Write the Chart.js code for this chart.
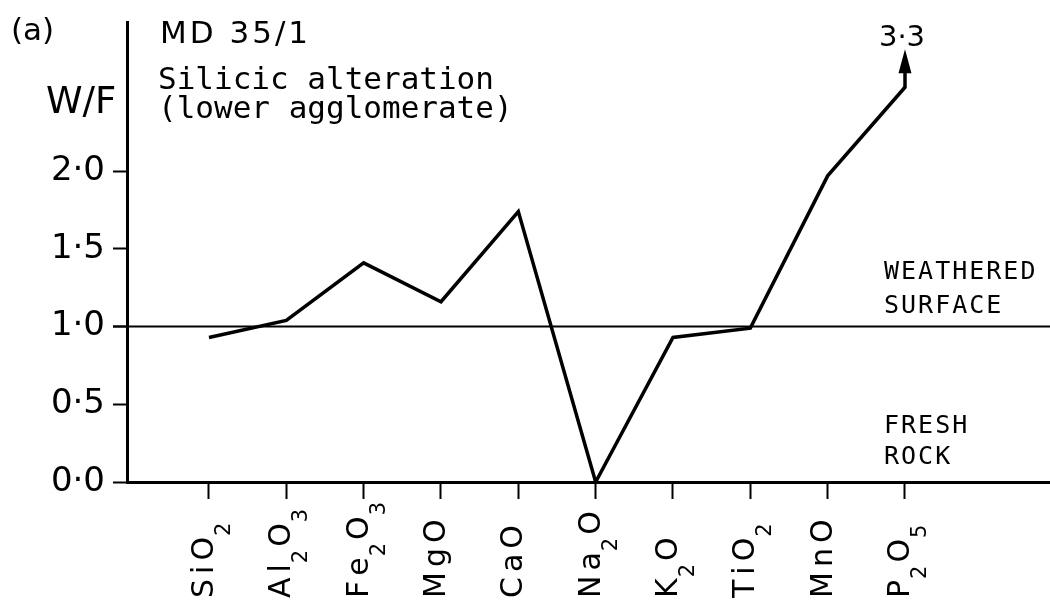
<!DOCTYPE html>
<html>
<head>
<meta charset="utf-8">
<script src="https://cdn.jsdelivr.net/npm/chart.js@4.4.1/dist/chart.umd.min.js"></script>
<style>
html,body{margin:0;padding:0;background:#fff;}
#wrap{width:1050px;height:606px;}
</style>
</head>
<body>
<div id="wrap"><canvas id="c" width="1050" height="606"></canvas></div>
<script>
const categories = ["SiO₂","Al₂O₃","Fe₂O₃","MgO","CaO","Na₂O","K₂O","TiO₂","MnO","P₂O₅"];
const wfValues = [0.93, 1.04, 1.41, 1.16, 1.74, 0.0, 0.93, 0.99, 1.97, 2.54];
const yTicks = [0, 0.5, 1.0, 1.5, 2.0];
const boundaryValue = 1.0;
const offScaleLabel = "3·3";

const MONO = "'DejaVu Sans Mono', monospace";
const SANS = "'DejaVu Sans', sans-serif";
const SUBS = {"₀":"0","₁":"1","₂":"2","₃":"3","₄":"4","₅":"5","₆":"6","₇":"7","₈":"8","₉":"9"};

const annotations = {
  id: 'annotations',
  afterDraw(chart) {
    const ctx = chart.ctx;
    const ca = chart.chartArea;
    const ys = chart.scales.y, xs = chart.scales.x;
    ctx.save();
    ctx.fillStyle = '#000';
    ctx.strokeStyle = '#000';
    // boundary line at W/F = 1
    const yb = ys.getPixelForValue(boundaryValue);
    ctx.lineWidth = 2;
    ctx.beginPath();
    ctx.moveTo(ca.left - 14, yb);
    ctx.lineTo(ca.right, yb);
    ctx.stroke();
    // arrow from last point
    const meta = chart.getDatasetMeta(0);
    const last = meta.data[meta.data.length - 1];
    const px = last.x, py = last.y;
    ctx.lineWidth = 3.5;
    ctx.beginPath();
    ctx.moveTo(px, py + 1);
    ctx.lineTo(px, py - 18);
    ctx.stroke();
    ctx.beginPath();
    ctx.moveTo(px - 6.5, py - 14);
    ctx.lineTo(px + 6.5, py - 14);
    ctx.lineTo(px, py - 38);
    ctx.closePath();
    ctx.fill();
    ctx.textBaseline = 'alphabetic';
    ctx.textAlign = 'center';
    ctx.font = '29px ' + SANS;
    ctx.fillText(offScaleLabel, px - 3, py - 41);
    // category labels (rotated, bottom-aligned, with lowered subscripts)
    categories.forEach((lab, i) => {
      const x = xs.getPixelForValue(i);
      ctx.save();
      ctx.translate(x + 4, 598);
      ctx.rotate(-Math.PI / 2);
      ctx.textAlign = 'left';
      let pos = 0;
      for (const ch of lab) {
        if (SUBS[ch]) {
          ctx.font = '21px ' + SANS;
          pos -= 4;
          ctx.fillText(SUBS[ch], pos, 17);
          pos += ctx.measureText(SUBS[ch]).width + 3;
        } else {
          ctx.font = '30px ' + SANS;
          ctx.fillText(ch, pos, 0);
          pos += ctx.measureText(ch).width + 5;
        }
      }
      ctx.restore();
    });
    // titles
    ctx.textAlign = 'left';
    ctx.font = '31px ' + SANS;
    ctx.fillText('(a)', 11, 40);
    ctx.letterSpacing = '3px';
    ctx.fillText('MD 35/1', ca.left + 33, 43);
    ctx.letterSpacing = '0px';
    ctx.font = '31px ' + MONO;
    ctx.fillText('Silicic alteration', ca.left + 31, 89);
    ctx.fillText('(lower agglomerate)', ca.left + 31, 118);
    ctx.font = '37px ' + SANS;
    ctx.fillText('W/F', 46, 113);
    // regions
    ctx.font = '25px ' + MONO;
    ctx.letterSpacing = '2px';
    ctx.fillText('WEATHERED', 884, yb - 48);
    ctx.fillText('SURFACE', 884, yb - 14);
    ctx.fillText('FRESH', 884, yb + 106);
    ctx.fillText('ROCK', 884, yb + 137);
    ctx.restore();
  }
};

new Chart(document.getElementById('c'), {
  type: 'line',
  data: {
    datasets: [{
      data: wfValues.map((v, i) => ({x: i, y: v})),
      borderColor: '#000',
      borderWidth: 3.5,
      pointRadius: 0,
      tension: 0,
      fill: false
    }]
  },
  options: {
    responsive: false,
    animation: false,
    devicePixelRatio: 1,
    layout: {padding: {top: 22, right: 0, left: 0, bottom: 0}},
    plugins: {legend: {display: false}, tooltip: {enabled: false}},
    scales: {
      x: {
        type: 'linear',
        min: -1.06,
        max: 10.875,
        afterFit(a) { a.height = 124; a.paddingLeft = 0; a.paddingRight = 0; },
        afterBuildTicks(a) { a.ticks = categories.map((c, i) => ({value: i})); },
        ticks: {display: false, autoSkip: false},
        grid: {drawOnChartArea: false, tickLength: 17, tickWidth: 2, color: '#000'},
        border: {color: '#000', width: 3}
      },
      y: {
        type: 'linear',
        min: 0,
        max: 2.96,
        afterFit(a) { a.width = 127; a.paddingTop = 0; a.paddingBottom = 0; },
        afterBuildTicks(a) { a.ticks = yTicks.map(v => ({value: v})); },
        ticks: {
          padding: 8,
          color: '#000',
          font: {family: SANS, size: 34},
          callback: (v) => v.toFixed(1).replace('.', '·')
        },
        grid: {drawOnChartArea: false, tickLength: 14, tickWidth: 2, color: '#000'},
        border: {color: '#000', width: 3}
      }
    }
  },
  plugins: [annotations]
});
</script>
</body>
</html>
